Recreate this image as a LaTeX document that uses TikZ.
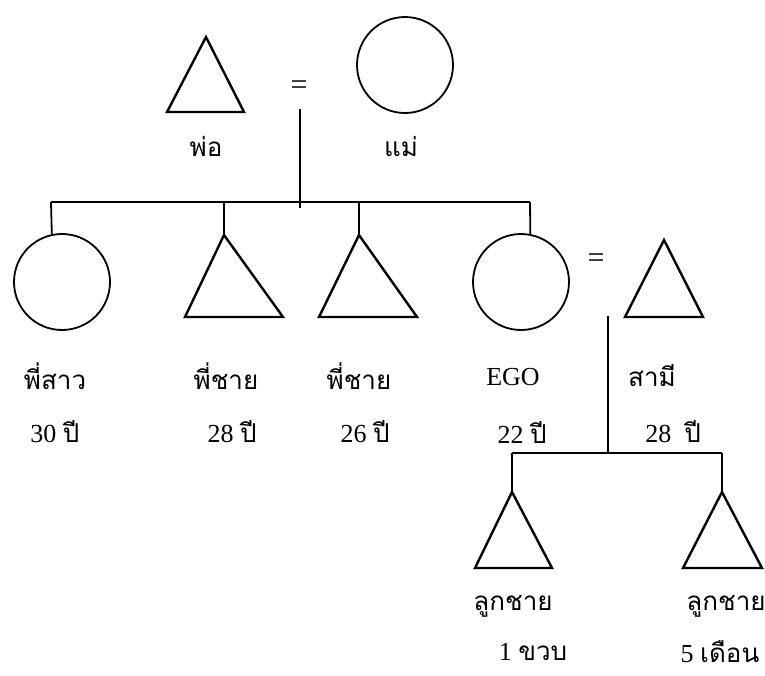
\documentclass[tikz,border=0pt]{standalone}
\usepackage{fontspec}
\setmainfont{Liberation Serif}
\newfontfamily\thai[Script=Thai]{Loma}
\begin{document}
\begin{tikzpicture}[x=1pt,y=-1pt,
  ln/.style={line width=1.8pt},
  tri/.style={line width=2.4pt, line join=miter},
  circ/.style={draw, circle, line width=1.8pt, minimum size=96pt, inner sep=0pt},
  lab/.style={font=\fontsize{26}{28}\selectfont, inner sep=0pt},
  eqs/.style={font=\fontsize{30}{32}\selectfont, inner sep=0pt},
  tlab/.style={font=\fontsize{26}{28}\selectfont\thai, inner sep=0pt}]
\useasboundingbox (0,0) rectangle (765,675);
% generation 1
\coordinate (fa) at (206,37);
\draw[tri] (fa) -- (167,112) -- (244,112) -- cycle;
\node[circ] (mo) at (405,65) {};
\node[eqs] (eq1) at (299,88) {=};
\node[tlab] (lfa) at (206,146) {พ่อ};
\node[tlab] (lmo) at (401,146) {แม่};
\coordinate (p1) at (300,109);
\coordinate (p1b) at (300,208);
\draw[ln] (p1) -- (p1b);
% sibling line
\coordinate (s0) at (51,202);
\coordinate (s4) at (530,202);
\draw[ln] (s0) -- (s4);
% siblings
\node[circ] (sis) at (62,282) {};
\draw[ln] (s0) -- (sis.102);
\coordinate (b1) at (224,235);
\draw[tri] (b1) -- (185,317) -- (283,317) -- cycle;
\draw[ln] (224,202) -- (b1);
\coordinate (b2) at (359,235);
\draw[tri] (b2) -- (319,317) -- (417,317) -- cycle;
\draw[ln] (359,202) -- (b2);
\node[circ] (ego) at (521,282) {};
\draw[ln] (s4) -- (ego.79);
\node[eqs] (eq2) at (596,261) {=};
\coordinate (hu) at (664,240);
\draw[tri] (hu) -- (625,317) -- (703,317) -- cycle;
% labels gen 2
\node[tlab] (lsis) at (55,376) {พี่สาว};
\node[tlab] (lb1) at (226,376) {พี่ชาย};
\node[tlab] (lb2) at (359,376) {พี่ชาย};
\node[lab] (lego) at (513,377) {EGO};
\node[tlab] (lhu) at (652,376) {สามี};
\node[lab] (asis) at (55,432) {30 {\thai ปี}};
\node[lab] (ab1) at (232,432) {28 {\thai ปี}};
\node[lab] (ab2) at (365,432) {26 {\thai ปี}};
\node[lab] (aego) at (522,432) {22 {\thai ปี}};
\node[lab] (ahu) at (673,432) {28\ \ {\thai ปี}};
% couple line
\coordinate (c1) at (608,316);
\coordinate (c1b) at (608,453);
\draw[ln] (c1) -- (c1b);
\coordinate (k0) at (512,453);
\coordinate (k1) at (722,453);
\draw[ln] (k0) -- (k1);
\coordinate (ch1) at (512,492);
\draw[tri] (ch1) -- (475,568) -- (552,568) -- cycle;
\draw[ln] (k0) -- (ch1);
\coordinate (ch2) at (722,492);
\draw[tri] (ch2) -- (683,568) -- (762,568) -- cycle;
\draw[ln] (k1) -- (ch2);
\node[tlab] (lch1) at (513,606) {ลูกชาย};
\node[tlab] (lch2) at (726,606) {ลูกชาย};
\node[lab] (ach1) at (533,652) {1 {\thai ขวบ}};
\node[lab] (ach2) at (720,652) {5 {\thai เดือน}};
\end{tikzpicture}
\end{document}
